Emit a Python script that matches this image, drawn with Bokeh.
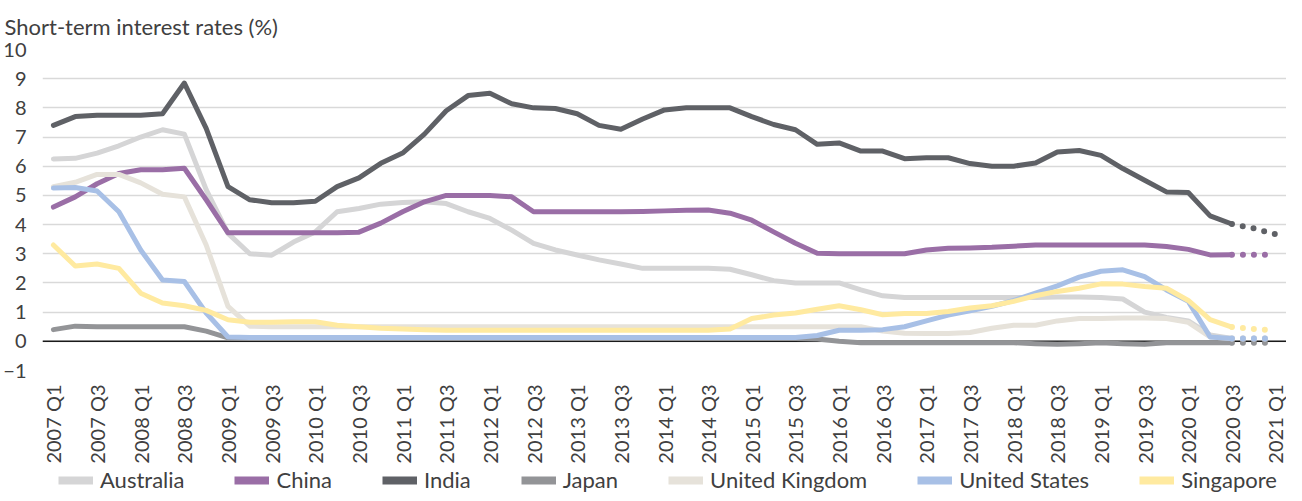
from math import pi
from bokeh.plotting import figure
from bokeh.layouts import column
from bokeh.models import FixedTicker, Span, Legend, LegendItem
from bokeh.embed import file_html
from bokeh.resources import INLINE

# ---------------- data (quarterly, 2007 Q1 .. 2020 Q3 actual; 2020 Q3 .. 2021 Q1 projected) -------------
tick_labels = ["2007 Q1", "2007 Q3", "2008 Q1", "2008 Q3", "2009 Q1", "2009 Q3", "2010 Q1", "2010 Q3",
               "2011 Q1", "2011 Q3", "2012 Q1", "2012 Q3", "2013 Q1", "2013 Q3", "2014 Q1", "2014 Q3",
               "2015 Q1", "2015 Q3", "2016 Q1", "2016 Q3", "2017 Q1", "2017 Q3", "2018 Q1", "2018 Q3",
               "2019 Q1", "2019 Q3", "2020 Q1", "2020 Q3", "2021 Q1"]

series_names = ["Australia", "China", "India", "Japan", "United Kingdom", "United States", "Singapore"]

australia = [6.25, 6.27, 6.45, 6.7, 7.0, 7.25, 7.1, 5.2, 3.7, 3.0, 2.95, 3.4,
             3.75, 4.44, 4.55, 4.7, 4.76, 4.78, 4.72, 4.44, 4.21, 3.81, 3.36, 3.13,
             2.96, 2.79, 2.65, 2.5, 2.5, 2.5, 2.5, 2.47, 2.28, 2.08, 2.0, 2.0,
             2.0, 1.76, 1.56, 1.5, 1.5, 1.5, 1.5, 1.5, 1.5, 1.5, 1.52, 1.52,
             1.5, 1.45, 1.0, 0.82, 0.7, 0.22, 0.1]
china = [4.6, 4.95, 5.4, 5.75, 5.88, 5.88, 5.93, 4.85, 3.72, 3.72, 3.72, 3.72,
         3.72, 3.72, 3.74, 4.05, 4.44, 4.78, 5.0, 5.0, 5.0, 4.95, 4.44, 4.44,
         4.44, 4.44, 4.44, 4.45, 4.47, 4.49, 4.5, 4.39, 4.15, 3.75, 3.36, 3.02,
         3.0, 3.0, 3.0, 3.0, 3.13, 3.19, 3.2, 3.22, 3.26, 3.3, 3.3, 3.3,
         3.3, 3.3, 3.3, 3.25, 3.15, 2.96, 2.97]
india = [7.4, 7.7, 7.75, 7.75, 7.75, 7.8, 8.85, 7.3, 5.3, 4.85, 4.75, 4.75,
         4.8, 5.3, 5.6, 6.1, 6.45, 7.1, 7.9, 8.42, 8.5, 8.14, 8.0, 7.98,
         7.8, 7.4, 7.27, 7.62, 7.93, 8.0, 8.0, 8.0, 7.7, 7.43, 7.25, 6.75,
         6.8, 6.52, 6.52, 6.26, 6.29, 6.29, 6.09, 6.0, 6.0, 6.11, 6.49, 6.54,
         6.37, 5.92, 5.52, 5.12, 5.1, 4.3, 4.02]
japan = [0.4, 0.52, 0.5, 0.5, 0.5, 0.5, 0.5, 0.35, 0.12, 0.1, 0.1, 0.1,
         0.1, 0.1, 0.1, 0.1, 0.1, 0.1, 0.1, 0.1, 0.1, 0.1, 0.1, 0.1,
         0.1, 0.1, 0.1, 0.1, 0.1, 0.1, 0.1, 0.1, 0.1, 0.1, 0.1, 0.08,
         0.0, -0.05, -0.05, -0.05, -0.05, -0.05, -0.05, -0.05, -0.05, -0.08, -0.1, -0.08,
         -0.05, -0.08, -0.1, -0.05, -0.05, -0.05, -0.05]
united_kingdom = [5.3, 5.45, 5.72, 5.72, 5.43, 5.04, 4.95, 3.3, 1.2, 0.52, 0.5, 0.5,
                  0.5, 0.5, 0.5, 0.5, 0.5, 0.5, 0.5, 0.5, 0.5, 0.5, 0.5, 0.5,
                  0.5, 0.5, 0.5, 0.5, 0.5, 0.5, 0.5, 0.5, 0.5, 0.5, 0.5, 0.5,
                  0.5, 0.5, 0.35, 0.28, 0.27, 0.27, 0.3, 0.45, 0.55, 0.55, 0.7, 0.78,
                  0.78, 0.8, 0.8, 0.78, 0.65, 0.15, 0.1]
united_states = [5.25, 5.27, 5.15, 4.44, 3.13, 2.1, 2.05, 0.97, 0.15, 0.13, 0.13, 0.13,
                 0.13, 0.13, 0.13, 0.13, 0.13, 0.13, 0.13, 0.13, 0.13, 0.13, 0.13, 0.13,
                 0.13, 0.13, 0.13, 0.13, 0.13, 0.13, 0.13, 0.13, 0.13, 0.13, 0.13, 0.2,
                 0.38, 0.38, 0.4, 0.5, 0.7, 0.9, 1.05, 1.2, 1.4, 1.65, 1.9, 2.2,
                 2.4, 2.45, 2.22, 1.76, 1.37, 0.15, 0.1]
singapore = [3.3, 2.58, 2.65, 2.5, 1.65, 1.31, 1.22, 1.06, 0.74, 0.65, 0.65, 0.67,
             0.67, 0.55, 0.5, 0.45, 0.42, 0.4, 0.38, 0.38, 0.38, 0.38, 0.38, 0.38,
             0.38, 0.38, 0.38, 0.38, 0.38, 0.38, 0.38, 0.42, 0.78, 0.9, 0.97, 1.1,
             1.22, 1.08, 0.91, 0.95, 0.95, 1.02, 1.14, 1.22, 1.37, 1.56, 1.71, 1.82,
             1.97, 1.96, 1.88, 1.82, 1.4, 0.74, 0.49]

# projections 2020 Q3, 2020 Q4, 2021 Q1
proj_australia = [0.1, 0.1, 0.1]
proj_china = [2.97, 2.97, 2.97]
proj_india = [4.02, 3.87, 3.67]
proj_japan = [-0.05, -0.05, -0.05]
proj_united_kingdom = [0.1, 0.1, 0.1]
proj_united_states = [0.1, 0.1, 0.1]
proj_singapore = [0.49, 0.42, 0.38]

colors = ["#d5d5d6", "#9a6ea6", "#5f6166", "#939497", "#e6e2da", "#a8c0e6", "#ffeaa0"]

actual = [australia, china, india, japan, united_kingdom, united_states, singapore]
projected = [proj_australia, proj_china, proj_india, proj_japan, proj_united_kingdom,
             proj_united_states, proj_singapore]

FONT = "Lato"
TEXT = "#404040"

# ---------------- main chart ----------------
p = figure(width=1286, height=466, x_range=(-0.5, 56.5), y_range=(-1, 10),
           output_backend="svg", toolbar_location=None,
           min_border_left=38, min_border_right=0, min_border_top=48, min_border_bottom=96)
p.outline_line_color = None
p.background_fill_color = "white"

p.title.text = "Short-term interest rates (%)"
p.title.text_font = FONT
p.title.text_font_size = "22px"
p.title.text_font_style = "normal"
p.title.text_color = TEXT
p.title.text_line_height = 0.8
p.title.align = "left"
p.title.offset = -38
p.title.standoff = 20

p.yaxis.ticker = FixedTicker(ticks=list(range(-1, 11)))
p.yaxis.axis_line_color = None
p.yaxis.major_tick_line_color = None
p.yaxis.minor_tick_line_color = None
p.yaxis.major_label_text_font = FONT
p.yaxis.major_label_text_font_size = "20px"
p.yaxis.major_label_text_color = TEXT
p.yaxis.major_label_standoff = 10

tick_pos = [2 * i for i in range(len(tick_labels))]
p.xaxis.ticker = FixedTicker(ticks=tick_pos)
p.xaxis.major_label_overrides = {t: lab for t, lab in zip(tick_pos, tick_labels)}
p.xaxis.major_label_orientation = pi / 2
p.xaxis.axis_line_color = None
p.xaxis.major_tick_line_color = None
p.xaxis.minor_tick_line_color = None
p.xaxis.major_label_text_font = FONT
p.xaxis.major_label_text_font_size = "20px"
p.xaxis.major_label_text_color = TEXT
p.xaxis.major_label_standoff = 8

p.xgrid.visible = False
p.ygrid.grid_line_color = "#d9d9d9"
p.ygrid.grid_line_width = 1.5

zero = Span(location=0, dimension="width", line_color="#1a1a1a", line_width=1.6, level="underlay")
p.add_layout(zero)

for col, vals, proj in zip(colors, actual, projected):
    xs = list(range(len(vals)))
    p.line(xs, vals, line_color=col, line_width=5, line_join="round", line_cap="round")
    px = list(range(len(vals) - 1, len(vals) - 1 + len(proj)))
    p.line(px, proj, line_color=col, line_width=6, line_dash="0 11", line_cap="round")

# ---------------- legend strip (series drawn out of view; only the legend shows) ----------------
lg = figure(width=1286, height=27, x_range=(-0.5, 56.5), y_range=(100, 101),
            output_backend="svg", toolbar_location=None,
            x_axis_location=None, y_axis_location=None, min_border=0)
lg.outline_line_color = None
lg.grid.visible = False

items = []
for name, col, vals in zip(series_names, colors, actual):
    r = lg.line(list(range(len(vals))), vals, line_color=col, line_width=8)
    items.append(LegendItem(label=name, renderers=[r]))

legend = Legend(items=items, orientation="horizontal", location=(16, 0),
                glyph_width=35, glyph_height=22, label_standoff=7, spacing=50,
                padding=0, margin=0, border_line_color=None, background_fill_alpha=0,
                label_text_font=FONT, label_text_font_size="22px", label_text_color=TEXT)
lg.add_layout(legend)

open("out.html", "w").write(file_html(column(p, lg, spacing=0), INLINE))
